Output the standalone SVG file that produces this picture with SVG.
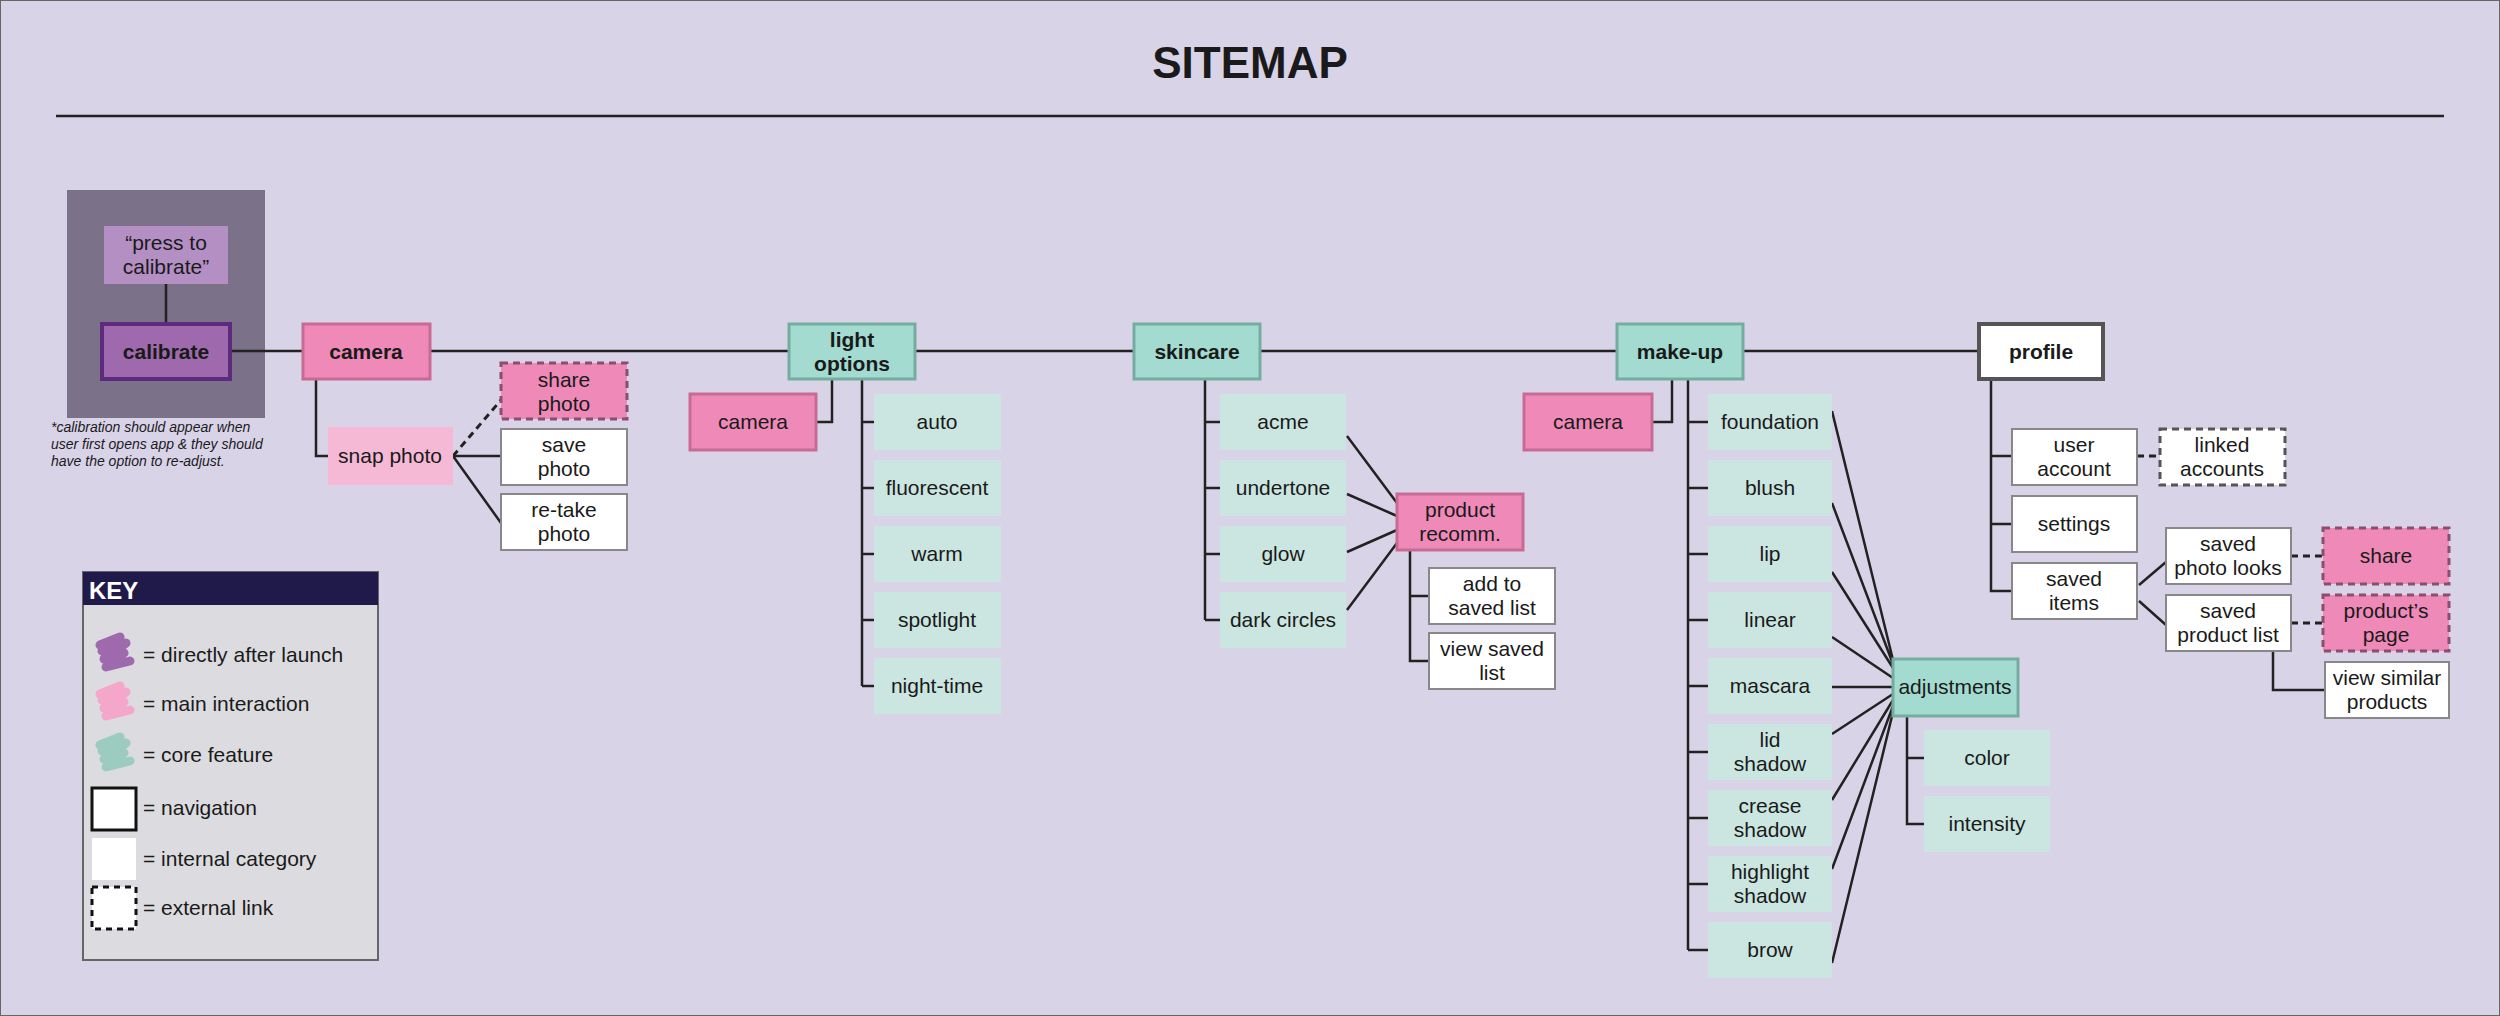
<svg xmlns="http://www.w3.org/2000/svg" width="2500" height="1016" viewBox="0 0 2500 1016">
<style>
text{font-family:"Liberation Sans",Arial,sans-serif;font-size:21px;fill:#1a1a1a;text-anchor:middle}
.b{font-weight:bold}
.core{fill:#cbe6e0}
.coreB{fill:#a3dbd0;stroke:#74ad9f;stroke-width:3}
.pink{fill:#ef8ab8;stroke:#c76b95;stroke-width:3}
.pinkD{fill:#ef8ab8;stroke:#8a4f6e;stroke-width:3;stroke-dasharray:7 5}
.lpink{fill:#f5b9d5}
.int{fill:#fff;stroke:#888;stroke-width:2}
.ext{fill:#fff;stroke:#555;stroke-width:3;stroke-dasharray:7 5}
.nav{fill:#fff;stroke:#555;stroke-width:4}
.ln{stroke:#222;stroke-width:2.5;fill:none}
.dl{stroke:#222;stroke-width:3;fill:none;stroke-dasharray:7 5}
.lt{text-anchor:start}
</style>
<rect x="0" y="0" width="2500" height="1016" fill="#d9d3e8" stroke="#666" stroke-width="2"/>
<text x="1250" y="78" class="b" style="font-size:44px">SITEMAP</text>
<line x1="56" y1="116" x2="2444" y2="116" stroke="#222" stroke-width="2.5"/>
<rect x="67" y="190" width="198" height="228" fill="#7b7189"/>
<g font-style="italic">
<text class="lt" x="51" y="432" style="font-size:14px;font-style:italic">*calibration should appear when</text>
<text class="lt" x="51" y="449" style="font-size:14px;font-style:italic">user first opens app &amp; they should</text>
<text class="lt" x="51" y="466" style="font-size:14px;font-style:italic">have the option to re-adjust.</text>
</g>
<g id="connectors">
<path class="ln" d="M166 284V324M230 351H1979"/>
<path class="ln" d="M316 379V456H328M453 456H501M453 456L501 523"/>
<path class="dl" d="M453 456L501 400"/>
<path class="ln" d="M832 379V422H816M862 379V686M862 422H874M862 488H874M862 554H874M862 620H874M862 686H874"/>
<path class="ln" d="M1205 379V620M1205 422H1220M1205 488H1220M1205 554H1220M1205 620H1220"/>
<path class="ln" d="M1347 436L1397 503M1347 494L1397 516M1347 552L1397 530M1347 610L1397 543"/>
<path class="ln" d="M1410 550V661H1429M1410 596H1429"/>
<path class="ln" d="M1672 379V422H1652M1688 379V950M1688 422H1708M1688 488H1708M1688 554H1708M1688 620H1708M1688 686H1708M1688 752H1708M1688 818H1708M1688 884H1708M1688 950H1708"/>
<path class="ln" d="M1832 411L1893 660M1832 503L1893 664M1832 572L1893 668M1832 637L1893 678M1832 687H1893M1832 734L1893 694M1832 800L1893 700M1832 869L1893 706M1832 963L1893 712"/>
<path class="ln" d="M1907 716V824H1924M1907 758H1924"/>
<path class="ln" d="M1991 379V591H2012M1991 456H2012M1991 524H2012"/>
<path class="ln" d="M2139 585L2166 562M2139 601L2166 625M2273 651V690H2325"/>
<path class="dl" d="M2137 456H2160M2291 556H2323M2291 623H2323"/>
</g>
<g id="press"><rect x="104" y="226" width="124" height="58" fill="#b48fc4"/><text x="166" y="250">“press to</text><text x="166" y="274">calibrate”</text></g>
<g id="calibrate"><rect x="102" y="324" width="128" height="55" fill="#9e6aad" stroke="#5e2a7e" stroke-width="4"/><text class="b" x="166" y="359">calibrate</text></g>
<g id="camera"><rect class="pink" x="303" y="324" width="127" height="55"/><text class="b" x="366" y="359">camera</text></g>
<g id="snap"><rect class="lpink" x="328" y="427" width="125" height="58"/><text x="390" y="463">snap photo</text></g>
<g id="share-photo"><rect class="pinkD" x="501" y="363" width="126" height="56"/><text x="564" y="387">share</text><text x="564" y="411">photo</text></g>
<g id="save-photo"><rect class="int" x="501" y="429" width="126" height="56"/><text x="564" y="452">save</text><text x="564" y="476">photo</text></g>
<g id="retake"><rect class="int" x="501" y="494" width="126" height="56"/><text x="564" y="517">re-take</text><text x="564" y="541">photo</text></g>
<g id="light"><rect class="coreB" x="789" y="324" width="126" height="55"/><text class="b" x="852" y="347">light</text><text class="b" x="852" y="371">options</text></g>
<g id="camera2"><rect class="pink" x="690" y="394" width="126" height="56"/><text x="753" y="429">camera</text></g>
<g id="auto"><rect class="core" x="874" y="394" width="127" height="56"/><text x="937" y="429">auto</text></g>
<g id="fluorescent"><rect class="core" x="874" y="460" width="127" height="56"/><text x="937" y="495">fluorescent</text></g>
<g id="warm"><rect class="core" x="874" y="526" width="127" height="56"/><text x="937" y="561">warm</text></g>
<g id="spotlight"><rect class="core" x="874" y="592" width="127" height="56"/><text x="937" y="627">spotlight</text></g>
<g id="nighttime"><rect class="core" x="874" y="658" width="127" height="56"/><text x="937" y="693">night-time</text></g>
<g id="skincare"><rect class="coreB" x="1134" y="324" width="126" height="55"/><text class="b" x="1197" y="359">skincare</text></g>
<g id="acme"><rect class="core" x="1220" y="394" width="126" height="56"/><text x="1283" y="429">acme</text></g>
<g id="undertone"><rect class="core" x="1220" y="460" width="126" height="56"/><text x="1283" y="495">undertone</text></g>
<g id="glow"><rect class="core" x="1220" y="526" width="126" height="56"/><text x="1283" y="561">glow</text></g>
<g id="darkcircles"><rect class="core" x="1220" y="592" width="126" height="56"/><text x="1283" y="627">dark circles</text></g>
<g id="recomm"><rect class="pink" x="1397" y="494" width="126" height="56"/><text x="1460" y="517">product</text><text x="1460" y="541">recomm.</text></g>
<g id="addsaved"><rect class="int" x="1429" y="568" width="126" height="56"/><text x="1492" y="591">add to</text><text x="1492" y="615">saved list</text></g>
<g id="viewsaved"><rect class="int" x="1429" y="633" width="126" height="56"/><text x="1492" y="656">view saved</text><text x="1492" y="680">list</text></g>
<g id="makeup"><rect class="coreB" x="1617" y="324" width="126" height="55"/><text class="b" x="1680" y="359">make-up</text></g>
<g id="camera3"><rect class="pink" x="1524" y="394" width="128" height="56"/><text x="1588" y="429">camera</text></g>
<g id="foundation"><rect class="core" x="1708" y="394" width="124" height="56"/><text x="1770" y="429">foundation</text></g>
<g id="blush"><rect class="core" x="1708" y="460" width="124" height="56"/><text x="1770" y="495">blush</text></g>
<g id="lip"><rect class="core" x="1708" y="526" width="124" height="56"/><text x="1770" y="561">lip</text></g>
<g id="linear"><rect class="core" x="1708" y="592" width="124" height="56"/><text x="1770" y="627">linear</text></g>
<g id="mascara"><rect class="core" x="1708" y="658" width="124" height="56"/><text x="1770" y="693">mascara</text></g>
<g id="lidshadow"><rect class="core" x="1708" y="724" width="124" height="56"/><text x="1770" y="747">lid</text><text x="1770" y="771">shadow</text></g>
<g id="crease"><rect class="core" x="1708" y="790" width="124" height="56"/><text x="1770" y="813">crease</text><text x="1770" y="837">shadow</text></g>
<g id="highlight"><rect class="core" x="1708" y="856" width="124" height="56"/><text x="1770" y="879">highlight</text><text x="1770" y="903">shadow</text></g>
<g id="brow"><rect class="core" x="1708" y="922" width="124" height="56"/><text x="1770" y="957">brow</text></g>
<g id="adjustments"><rect class="coreB" x="1893" y="659" width="125" height="57"/><text x="1955" y="694">adjustments</text></g>
<g id="color"><rect class="core" x="1924" y="730" width="126" height="56"/><text x="1987" y="765">color</text></g>
<g id="intensity"><rect class="core" x="1924" y="796" width="126" height="56"/><text x="1987" y="831">intensity</text></g>
<g id="profile"><rect class="nav" x="1979" y="324" width="124" height="55"/><text class="b" x="2041" y="359">profile</text></g>
<g id="useraccount"><rect class="int" x="2012" y="429" width="125" height="56"/><text x="2074" y="452">user</text><text x="2074" y="476">account</text></g>
<g id="linked"><rect class="ext" x="2160" y="429" width="125" height="56"/><text x="2222" y="452">linked</text><text x="2222" y="476">accounts</text></g>
<g id="settings"><rect class="int" x="2012" y="496" width="125" height="56"/><text x="2074" y="531">settings</text></g>
<g id="saveditems"><rect class="int" x="2012" y="563" width="125" height="56"/><text x="2074" y="586">saved</text><text x="2074" y="610">items</text></g>
<g id="photolooks"><rect class="int" x="2166" y="528" width="125" height="56"/><text x="2228" y="551">saved</text><text x="2228" y="575">photo looks</text></g>
<g id="productlist"><rect class="int" x="2166" y="595" width="125" height="56"/><text x="2228" y="618">saved</text><text x="2228" y="642">product list</text></g>
<g id="share"><rect class="pinkD" x="2323" y="528" width="126" height="56"/><text x="2386" y="563">share</text></g>
<g id="productpage"><rect class="pinkD" x="2323" y="595" width="126" height="56"/><text x="2386" y="618">product’s</text><text x="2386" y="642">page</text></g>
<g id="similar"><rect class="int" x="2325" y="662" width="124" height="56"/><text x="2387" y="685">view similar</text><text x="2387" y="709">products</text></g>
<g id="key">
<rect x="83" y="572" width="295" height="388" fill="#dcdce0" stroke="#666" stroke-width="2"/>
<rect x="83" y="572" width="295" height="33" fill="#1f1a4a"/>
<text class="lt b" x="89" y="599" style="fill:#fff;font-size:24px">KEY</text>
<path d="M100 645l20-8-18 14 24-8-22 16 20-6-18 14 24-6" stroke="#9e6aad" stroke-width="9" stroke-linecap="round" stroke-linejoin="round" fill="none"/>
<path d="M100 694l20-8-18 14 24-8-22 16 20-6-18 14 24-6" stroke="#f4a7cb" stroke-width="9" stroke-linecap="round" stroke-linejoin="round" fill="none"/>
<path d="M100 745l20-8-18 14 24-8-22 16 20-6-18 14 24-6" stroke="#9ccbbf" stroke-width="9" stroke-linecap="round" stroke-linejoin="round" fill="none"/>
<rect x="92" y="788" width="44" height="42" fill="#fff" stroke="#111" stroke-width="3"/>
<rect x="92" y="838" width="44" height="42" fill="#fff"/>
<rect x="92" y="887" width="44" height="42" fill="#fff" stroke="#111" stroke-width="3" stroke-dasharray="6 5"/>
<text class="lt" x="143" y="662">= directly after launch</text>
<text class="lt" x="143" y="711">= main interaction</text>
<text class="lt" x="143" y="762">= core feature</text>
<text class="lt" x="143" y="815">= navigation</text>
<text class="lt" x="143" y="866">= internal category</text>
<text class="lt" x="143" y="915">= external link</text>
</g>
</svg>
